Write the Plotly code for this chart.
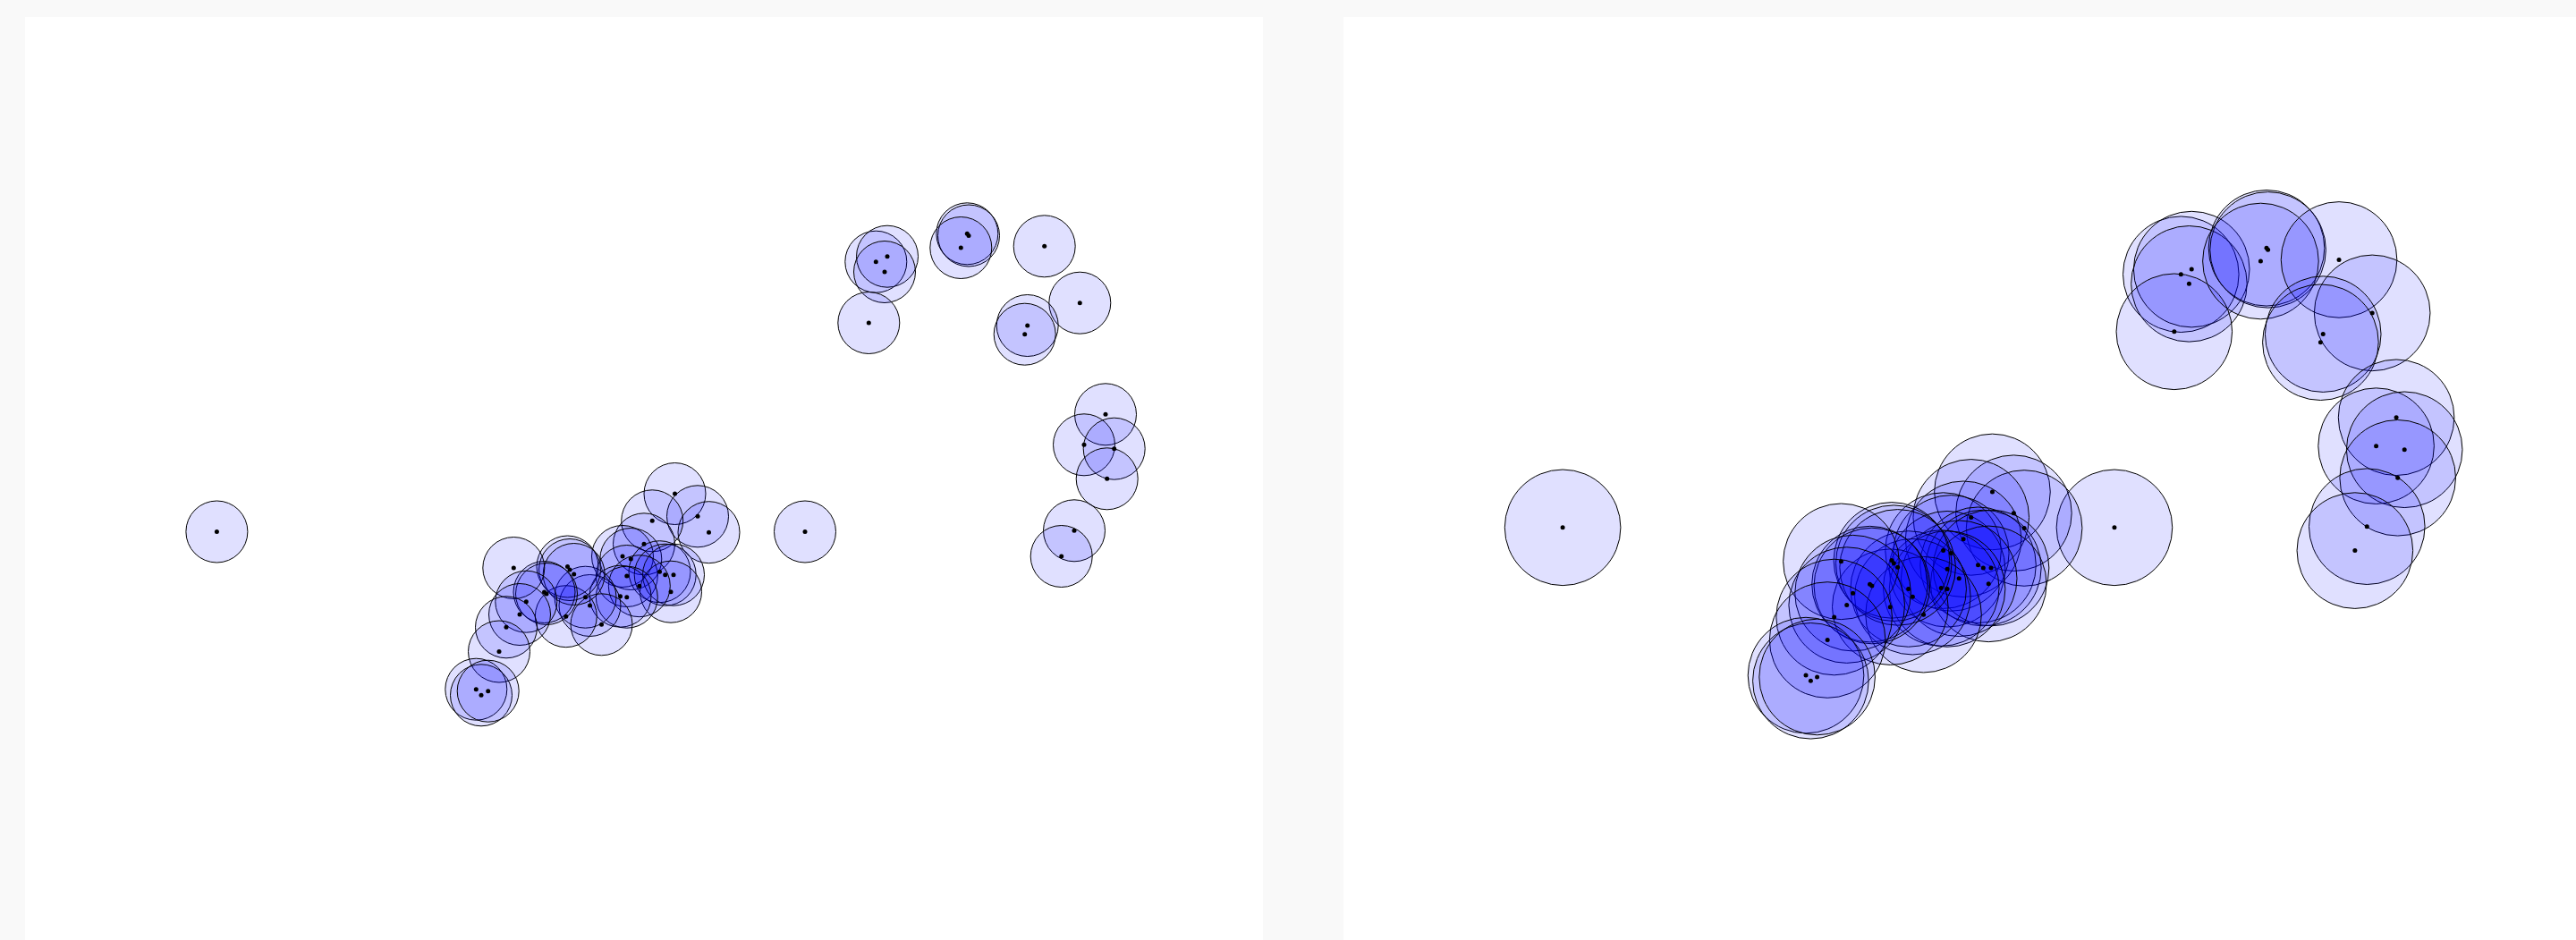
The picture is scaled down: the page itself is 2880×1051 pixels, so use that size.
import plotly.graph_objects as go

# Point positions (shared by both panels), in panel-local units of the left view
x_vals = [
    214.4, 872.0,                                   # isolated points
    951.3, 964.0, 961.0, 943.3, 1053.3, 1055.0, 1046.3, 1139.7, 1179.3, 1120.7, 1117.7,  # upper arc
    1208.0, 1184.0, 1217.7, 1209.7, 1173.0, 1158.7,  # right arc
    726.5, 752.0, 764.5, 701.2, 692.0, 668.0, 677.3, 672.8, 709.5, 715.7, 725.0,
    722.0, 686.8, 665.5, 672.8, 631.5, 626.5, 644.5, 604.8, 606.5, 609.0, 613.7,
    580.5, 583.0, 546.3, 560.3, 553.0, 538.0, 530.0, 504.3, 510.0, 517.7,   # dense cluster
]
y_vals = [
    575.5, 575.5,
    273.7, 267.7, 285.0, 342.0, 242.3, 244.5, 258.0, 256.3, 319.7, 345.0, 354.7,
    444.3, 478.3, 482.7, 516.3, 574.3, 603.0,
    533.0, 558.3, 576.2, 563.3, 589.3, 603.0, 606.0, 625.0, 620.2, 623.7, 623.7,
    642.7, 636.2, 647.7, 648.7, 658.0, 648.7, 679.3, 670.2, 614.5, 618.0, 623.0,
    643.0, 645.0, 616.0, 653.7, 668.0, 682.3, 709.5, 751.7, 758.3, 753.7,
]

# View settings: the right panel is the same data shown with larger circles
LEFT_RADIUS_PX = 35
RIGHT_RADIUS_PX = 65.3
RIGHT_SCALE = 0.938
RIGHT_OFF_X = 44.0
RIGHT_OFF_Y = 31.0

W, H = 2880, 1051
left_x0, left_x1 = 28, 1412
right_x0 = 1502
top = 19
panel_h = H - top

fill = "rgba(0,0,255,0.12)"
edge = "black"

fig = go.Figure()

for idx, (ax, radius) in enumerate([("", LEFT_RADIUS_PX), ("2", RIGHT_RADIUS_PX)]):
    xa = "x" + ax
    ya = "y" + ax
    fig.add_trace(go.Scatter(
        x=x_vals, y=y_vals, mode="markers", xaxis=xa, yaxis=ya,
        marker=dict(size=2 * radius - 1, color=fill, line=dict(color=edge, width=1)),
        hoverinfo="skip", showlegend=False,
    ))
    fig.add_trace(go.Scatter(
        x=x_vals, y=y_vals, mode="markers", xaxis=xa, yaxis=ya,
        marker=dict(size=5, color="black", line=dict(width=0)),
        hoverinfo="skip", showlegend=False,
    ))

left_w = left_x1 - left_x0
right_w = W - right_x0

axis_common = dict(visible=False, showgrid=False, zeroline=False, fixedrange=True)

fig.update_layout(
    width=W, height=H,
    margin=dict(l=0, r=0, t=0, b=0),
    paper_bgcolor="#f9f9f9",
    plot_bgcolor="white",
    xaxis=dict(domain=[left_x0 / W, left_x1 / W], range=[0, left_w], **axis_common),
    yaxis=dict(domain=[0, 1 - top / H], range=[panel_h, 0], **axis_common),
    xaxis2=dict(domain=[right_x0 / W, 1], anchor="y2",
                range=[-RIGHT_OFF_X / RIGHT_SCALE, (right_w - RIGHT_OFF_X) / RIGHT_SCALE],
                **axis_common),
    yaxis2=dict(domain=[0, 1 - top / H], anchor="x2",
                range=[(panel_h - RIGHT_OFF_Y) / RIGHT_SCALE, -RIGHT_OFF_Y / RIGHT_SCALE],
                **axis_common),
)

fig.write_html("out.html")
